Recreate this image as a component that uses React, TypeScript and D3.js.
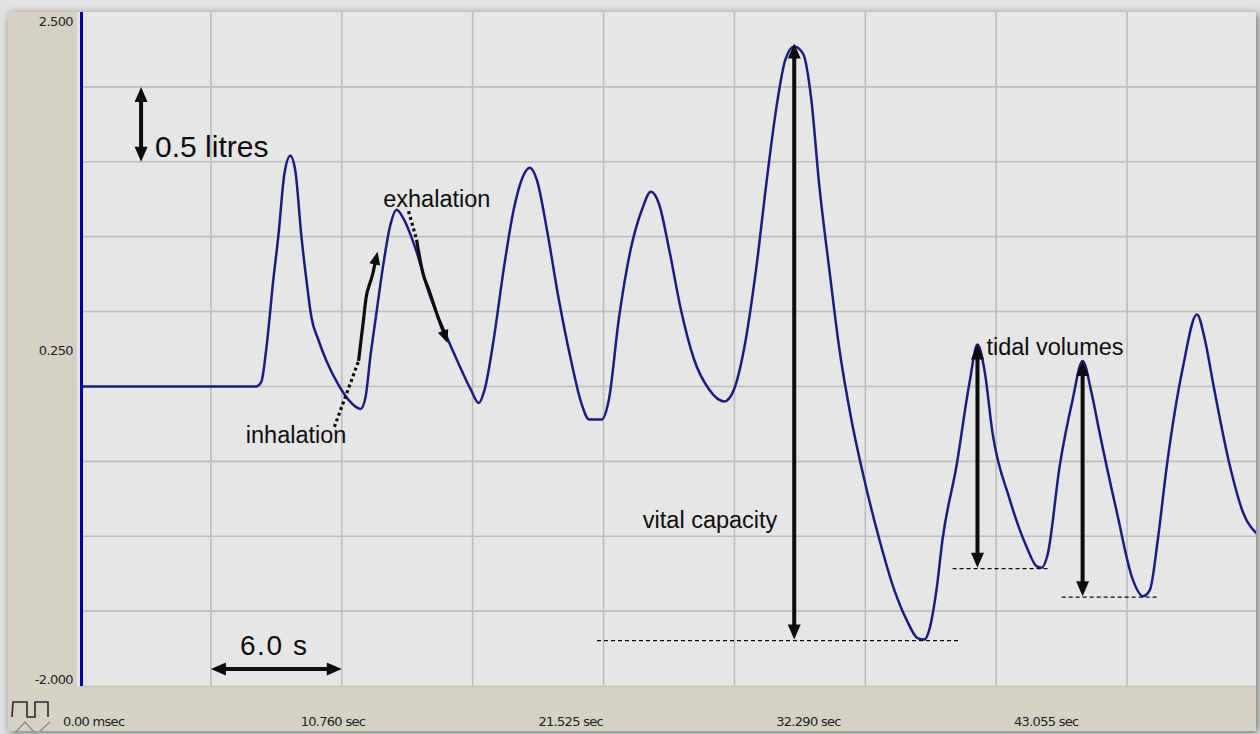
import React from "react";
import * as d3 from "d3";

const W = 1260;
const H = 734;

// Spirometer volume trace: time in seconds, volume in litres
const traceTime = [
  0, 8.08, 8.31, 8.54, 8.86, 9.09, 9.37, 9.64, 9.87, 10.15, 10.38, 10.61, 10.93, 11.3, 11.85, 12.31,
  12.86, 13.09, 13.32, 13.55, 13.91, 14.23, 14.51, 14.83, 15.38, 15.98, 16.67, 17.36, 17.91, 18.28,
  18.55, 18.96, 19.42, 19.88, 20.3, 20.62, 20.94, 21.4, 21.95, 22.5, 23.0, 23.33, 23.92, 24.24, 24.7,
  25.25, 25.76, 26.17, 26.54, 27.0, 27.55, 28.15, 28.84, 29.53, 29.98, 30.44, 30.99, 31.45, 31.91,
  32.33, 32.74, 33.15, 33.52, 33.89, 34.35, 34.81, 35.36, 35.95, 36.64, 37.33, 37.93, 38.39, 38.71,
  38.94, 39.26, 39.54, 40.18, 40.78, 41.14, 41.46, 41.83, 42.61, 43.39, 43.85, 44.08, 44.36, 44.91,
  45.5, 45.96, 46.38, 46.74, 47.53, 48.26, 48.72, 49.04, 49.41, 49.82, 50.56, 51.2, 51.57, 51.93,
  52.71, 53.31, 54.0,
];
const traceVolume = [
  0, 0, 0.03, 0.25, 0.71, 1.0, 1.42, 1.54, 1.44, 1.0, 0.71, 0.46, 0.31, 0.17, 0.01, -0.09,
  -0.15, -0.07, 0.21, 0.45, 0.82, 1.08, 1.18, 1.12, 0.92, 0.63, 0.38, 0.15, -0.02, -0.11,
  -0.02, 0.31, 0.78, 1.18, 1.4, 1.46, 1.38, 1.05, 0.58, 0.18, -0.12, -0.22, -0.22, -0.09, 0.45,
  0.92, 1.18, 1.3, 1.22, 0.92, 0.51, 0.18, -0.02, -0.1, -0.02, 0.25, 0.78, 1.34, 1.85,
  2.18, 2.27, 2.22, 1.92, 1.34, 0.78, 0.25, -0.22, -0.62, -1.02, -1.36, -1.57, -1.68, -1.69,
  -1.62, -1.36, -1.02, -0.53, 0.03, 0.28, 0.11, -0.31, -0.75, -1.07, -1.2, -1.21, -1.12, -0.53,
  -0.09, 0.17, -0.05, -0.31, -0.84, -1.29, -1.4, -1.36, -1.02, -0.53, 0.13, 0.48, 0.31, 0.03,
  -0.53, -0.84, -0.99,
];

// Axis labels
const yTickValues = [2.5, 0.25, -2.0];
const yTickLabels = ["2.500", "0.250", "-2.000"];
const timeRulerValues = [0, 10.76, 21.525, 32.29, 43.055];
const timeRulerLabels = ["0.00 msec", "10.760 sec", "21.525 sec", "32.290 sec", "43.055 sec"];

// Grid: 6 s per column, 0.5 L per row
const gridTimes = [6, 12, 18, 24, 30, 36, 42, 48];
const gridVolumes = [-1.5, -1.0, -0.5, 0, 0.5, 1.0, 1.5, 2.0];

// Scale bars
const volumeBar = { t: 2.8, from: 2.0, to: 1.5, label: "0.5 litres" };
const timeBar = { v: -1.886, from: 6, to: 12, label: "6.0 s" };

// Breathing annotations (time s, volume L)
const inhaleDotted = [[11.66, -0.27], [12.77, 0.17]];
const inhaleSolid = [[12.77, 0.17], [13.0, 0.45], [13.15, 0.62], [13.4, 0.74], [13.64, 0.9]];
const exhaleDotted = [[15.06, 1.17], [15.43, 0.98]];
const exhaleSolid = [[15.43, 0.98], [15.75, 0.74], [15.98, 0.65], [16.44, 0.45], [16.85, 0.29]];

// Tidal volume breaths: peak index into the trace, following trough index, dashed baseline span
const tidalBreaths = [
  { peak: 78, trough: 84, dashFrom: 40.0, dashTo: 44.45 },
  { peak: 88, trough: 93, dashFrom: 45.0, dashTo: 49.41 },
];
const vitalDash = { from: 23.7, to: 40.3 };

const x = d3.scaleLinear().domain([0, 54]).range([80, 1258]);
const y = d3.scaleLinear().domain([-2.0, 2.5]).range([686, 12]);
const rulerX = d3.scaleLinear().domain([0, 43.055]).range([63, 1014]);

const PLOT = { left: 80, right: 1256, top: 12, bottom: 686 };
const TRACE = "#1c1c80";
const INK = "#0d0d0d";

function arrowHead(x1: number, y1: number, x2: number, y2: number, len = 15, half = 6.5) {
  const a = Math.atan2(y2 - y1, x2 - x1);
  const bx = x2 - len * Math.cos(a);
  const by = y2 - len * Math.sin(a);
  const px = -Math.sin(a) * half;
  const py = Math.cos(a) * half;
  return `M${x2},${y2}L${bx + px},${by + py}L${bx - px},${by - py}Z`;
}

function DoubleArrow({ x1, y1, x2, y2, w = 4 }: { x1: number; y1: number; x2: number; y2: number; w?: number }) {
  const a = Math.atan2(y2 - y1, x2 - x1);
  const inset = 12;
  return (
    <g>
      <line
        x1={x1 + inset * Math.cos(a)}
        y1={y1 + inset * Math.sin(a)}
        x2={x2 - inset * Math.cos(a)}
        y2={y2 - inset * Math.sin(a)}
        stroke={INK}
        strokeWidth={w}
      />
      <path d={arrowHead(x2, y2, x1, y1)} fill={INK} />
      <path d={arrowHead(x1, y1, x2, y2)} fill={INK} />
    </g>
  );
}

export default function App() {
  const pts = traceTime.map((t, i) => [t, traceVolume[i]] as [number, number]);
  const line = d3
    .line<[number, number]>()
    .x((d) => x(d[0]))
    .y((d) => y(d[1]))
    .curve(d3.curveMonotoneX);

  const annLine = d3
    .line<number[]>()
    .x((d) => x(d[0]))
    .y((d) => y(d[1]))
    .curve(d3.curveCatmullRom);

  const vMax = d3.max(traceVolume) as number;
  const vMin = d3.min(traceVolume) as number;
  const vPeakT = traceTime[traceVolume.indexOf(vMax)];

  const lastInh = inhaleSolid[inhaleSolid.length - 1];
  const prevInh = inhaleSolid[inhaleSolid.length - 2];
  const lastExh = exhaleSolid[exhaleSolid.length - 1];
  const prevExh = exhaleSolid[exhaleSolid.length - 2];

  const annFont = "'Liberation Sans', Arial, sans-serif";
  const tickFont = "'DejaVu Sans', sans-serif";

  return (
    <svg width={W} height={H} style={{ position: "absolute", left: 0, top: 0 }}>
      <defs>
        <filter id="winShadow" x="-5%" y="-5%" width="110%" height="110%">
          <feDropShadow dx="2" dy="2" stdDeviation="4" floodColor="#000" floodOpacity="0.5" />
        </filter>
        <clipPath id="plotClip">
          <rect x={PLOT.left} y={PLOT.top} width={PLOT.right - PLOT.left} height={PLOT.bottom - PLOT.top} />
        </clipPath>
      </defs>

      <rect x={0} y={0} width={W} height={H} fill="#e2e2e2" />
      <rect x={8} y={12} width={1248} height={719} fill="#d5d2c5" filter="url(#winShadow)" />

      {/* plot area */}
      <rect x={PLOT.left} y={PLOT.top} width={PLOT.right - PLOT.left} height={PLOT.bottom - PLOT.top} fill="#e6e6e6" />
      <rect x={77} y={PLOT.top} width={3} height={PLOT.bottom - PLOT.top} fill="#e4e4e4" />

      <g clipPath="url(#plotClip)">
        {gridTimes.map((t) => (
          <line key={`gx${t}`} x1={x(t)} x2={x(t)} y1={PLOT.top} y2={PLOT.bottom} stroke="#bdbdbd" strokeWidth={1.6} />
        ))}
        {gridVolumes.map((v) => (
          <line key={`gy${v}`} x1={PLOT.left} x2={PLOT.right} y1={y(v)} y2={y(v)} stroke="#bdbdbd" strokeWidth={1.6} />
        ))}
        <path d={line(pts) as string} fill="none" stroke={TRACE} strokeWidth={2.5} strokeLinejoin="round" />
      </g>

      <line x1={PLOT.left} x2={PLOT.right} y1={PLOT.bottom + 0.5} y2={PLOT.bottom + 0.5} stroke="#c4c2b8" strokeWidth={1.5} />
      <line x1={81.5} x2={81.5} y1={PLOT.top} y2={PLOT.bottom} stroke="#0000a8" strokeWidth={3} />

      {/* volume axis labels */}
      {yTickValues.map((v, i) => {
        const yy = i === 0 ? y(v) + 14 : i === yTickValues.length - 1 ? y(v) - 2 : y(v) + 6;
        return (
          <text key={`yl${v}`} x={73} y={yy} textAnchor="end" fontSize={13} fontFamily={tickFont} fill="#222" letterSpacing={-0.6}>
            {yTickLabels[i]}
          </text>
        );
      })}

      {/* time ruler */}
      {timeRulerValues.map((t, i) => (
        <text key={`tl${t}`} x={rulerX(t)} y={726} fontSize={13} fontFamily={tickFont} fill="#222" letterSpacing={-0.7}>
          {timeRulerLabels[i]}
        </text>
      ))}

      {/* channel icon */}
      <path d="M12,717 L13,702 L27,702 L27,717 L35,717 L35,702 L48,702 L48,717" fill="none" stroke="#2a2a2a" strokeWidth={1.6} />
      <path d="M15,733 L25,722 L35,733 M40,731 L50,722" fill="none" stroke="#8a8a8a" strokeWidth={1.4} />

      {/* scale bars */}
      <DoubleArrow x1={x(volumeBar.t)} y1={y(volumeBar.from)} x2={x(volumeBar.t)} y2={y(volumeBar.to)} />
      <text x={x(volumeBar.t) + 14} y={y(volumeBar.to) - 5} fontSize={30} fontFamily={annFont} fill={INK}>
        {volumeBar.label}
      </text>
      <DoubleArrow x1={x(timeBar.from)} y1={y(timeBar.v)} x2={x(timeBar.to)} y2={y(timeBar.v)} />
      <text x={x(timeBar.from) + 29} y={y(timeBar.v) - 14} fontSize={28} fontFamily={annFont} fill={INK} textLength={67} lengthAdjust="spacing">
        {timeBar.label}
      </text>

      {/* inhalation / exhalation */}
      <path d={annLine(inhaleDotted) as string} fill="none" stroke={INK} strokeWidth={3.2} strokeDasharray="3,3" />
      <path d={annLine(inhaleSolid.slice(0, -1).concat([[
        lastInh[0] - (lastInh[0] - prevInh[0]) * 0.5,
        lastInh[1] - (lastInh[1] - prevInh[1]) * 0.5,
      ]])) as string} fill="none" stroke={INK} strokeWidth={3.2} />
      <path d={arrowHead(x(prevInh[0]), y(prevInh[1]), x(lastInh[0]), y(lastInh[1]), 13, 5.5)} fill={INK} />
      <text x={x(7.6)} y={443} fontSize={23.5} fontFamily={annFont} fill={INK}>inhalation</text>

      <path d={annLine(exhaleDotted) as string} fill="none" stroke={INK} strokeWidth={3.2} strokeDasharray="3,3" />
      <path d={annLine(exhaleSolid.slice(0, -1).concat([[
        lastExh[0] - (lastExh[0] - prevExh[0]) * 0.5,
        lastExh[1] - (lastExh[1] - prevExh[1]) * 0.5,
      ]])) as string} fill="none" stroke={INK} strokeWidth={3.2} />
      <path d={arrowHead(x(prevExh[0]), y(prevExh[1]), x(lastExh[0]), y(lastExh[1]), 13, 5.5)} fill={INK} />
      <text x={x(13.9)} y={y(1.195)} fontSize={23.5} fontFamily={annFont} fill={INK}>exhalation</text>

      {/* vital capacity */}
      <line x1={x(vitalDash.from)} x2={x(vitalDash.to)} y1={y(vMin) + 1} y2={y(vMin) + 1} stroke={INK} strokeWidth={1.2} strokeDasharray="4,3" />
      <DoubleArrow x1={x(vPeakT)} y1={y(vMax) - 3} x2={x(vPeakT)} y2={y(vMin)} />
      <text x={x(25.8)} y={528} fontSize={23.5} fontFamily={annFont} fill={INK}>vital capacity</text>

      {/* tidal volumes */}
      {tidalBreaths.map((b, i) => {
        const tx = x(traceTime[b.peak]);
        const top = y(traceVolume[b.peak]);
        const bot = y(traceVolume[b.trough]);
        return (
          <g key={`tv${i}`}>
            <line x1={x(b.dashFrom)} x2={x(b.dashTo)} y1={bot + 1} y2={bot + 1} stroke={INK} strokeWidth={1.2} strokeDasharray="4,3" />
            <DoubleArrow x1={tx} y1={top} x2={tx} y2={bot} />
          </g>
        );
      })}
      <text x={x(41.55)} y={355} fontSize={23.5} fontFamily={annFont} fill={INK}>tidal volumes</text>
    </svg>
  );
}
